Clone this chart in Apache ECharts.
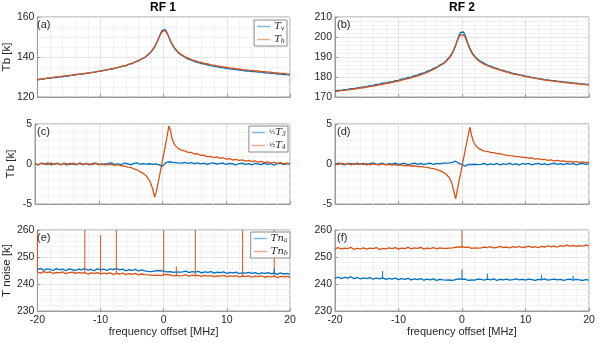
<!DOCTYPE html>
<html>
<head>
<meta charset="utf-8">
<script src="https://cdn.jsdelivr.net/npm/echarts@6/dist/echarts.min.js"></script>
<style>
  html, body { margin: 0; padding: 0; background: #fff; }
  #chart { width: 600px; height: 343px; }
</style>
</head>
<body>
<div id="chart"></div>
<script>
// frequency offset [MHz]: 0.5 MHz steps on the wings, 0.25 MHz around the line centre
const freq = [
  -20, -19.5, -19, -18.5, -18, -17.5, -17, -16.5, -16, -15.5, -15, -14.5, -14, -13.5, -13, -12.5, -12, -11.5,
  -11, -10.5, -10, -9.5, -9, -8.5, -8, -7.5, -7, -6.5, -6, -5.5, -5, -4.5, -4, -3.5, -3,
  -2.75, -2.5, -2.25, -2, -1.75, -1.5, -1.25, -1, -0.75, -0.5, -0.25, 0, 0.25, 0.5, 0.75, 1, 1.25, 1.5, 1.75,
  2, 2.25, 2.5, 2.75,
  3, 3.5, 4, 4.5, 5, 5.5, 6, 6.5, 7, 7.5, 8, 8.5, 9, 9.5, 10, 10.5, 11, 11.5, 12, 12.5, 13, 13.5, 14, 14.5,
  15, 15.5, 16, 16.5, 17, 17.5, 18, 18.5, 19, 19.5, 20
];

// (a) RF 1 brightness temperatures [K]
const tvRF1 = [
  128.5, 128.9, 128.9, 129.4, 129.3, 129.8, 129.7, 130.2, 130.1, 130.6, 130.5, 131.0, 130.9, 131.4, 131.3, 131.8, 131.8, 132.3,
  132.3, 132.8, 132.8, 133.4, 133.4, 134.0, 134.0, 134.7, 134.8, 135.5, 135.6, 136.4, 136.7, 137.6, 138.0, 139.1, 139.7,
  140.4, 141.0, 141.7, 142.5, 143.5, 144.7, 146.2, 147.9, 149.9, 151.8, 153.3, 154.1, 153.7, 152.3, 150.4, 148.5, 146.8, 145.3, 144.1,
  143.1, 142.3, 141.6, 141.0,
  140.4, 139.6, 138.8, 138.3, 137.6, 137.2, 136.7, 136.4, 135.9, 135.7, 135.3, 135.1, 134.7, 134.6, 134.2, 134.1, 133.8, 133.7,
  133.4, 133.3, 133.0, 133.0, 132.7, 132.7, 132.4, 132.4, 132.1, 132.1, 131.8, 131.8, 131.5, 131.5, 131.2, 131.2, 131.0
];
const thRF1 = [
  128.8, 128.8, 129.2, 129.3, 129.6, 129.8, 130.1, 130.1, 130.4, 130.6, 130.8, 130.9, 131.3, 131.3, 131.6, 131.7, 132.0, 132.2,
  132.4, 132.7, 133.1, 133.2, 133.6, 133.9, 134.2, 134.6, 135.0, 135.4, 135.8, 136.3, 136.9, 137.5, 138.3, 139.0, 139.9,
  140.6, 141.2, 141.9, 142.7, 143.7, 144.9, 146.3, 147.9, 149.7, 151.4, 152.7, 153.3, 153.2, 152.2, 150.6, 148.8, 147.1, 145.6, 144.4,
  143.4, 142.6, 141.9, 141.3,
  140.8, 139.9, 139.3, 138.6, 138.2, 137.6, 137.3, 136.8, 136.5, 136.1, 135.9, 135.5, 135.3, 135.0, 134.8, 134.5, 134.4, 134.1,
  134.0, 133.7, 133.6, 133.4, 133.3, 133.0, 133.0, 132.7, 132.7, 132.4, 132.4, 132.1, 132.1, 131.8, 131.8, 131.5, 131.3
];

// (b) RF 2 brightness temperatures [K]
const tvRF2 = [
  173.0, 173.3, 173.3, 173.7, 173.8, 174.2, 174.2, 174.6, 174.8, 175.1, 175.2, 175.7, 175.8, 176.3, 176.4, 176.9, 177.0, 177.5,
  177.6, 178.2, 178.3, 179.0, 179.1, 179.8, 179.9, 180.7, 180.9, 181.7, 182.0, 182.9, 183.3, 184.3, 184.8, 186.0, 186.7,
  187.4, 188.2, 189.0, 189.9, 191.0, 192.3, 194.0, 196.0, 198.3, 200.6, 202.3, 203.0, 202.5, 200.8, 198.5, 196.2, 194.3, 192.7, 191.4,
  190.4, 189.5, 188.8, 188.2,
  187.7, 186.8, 186.0, 185.4, 184.7, 184.3, 183.6, 183.3, 182.7, 182.4, 181.8, 181.6, 181.1, 180.9, 180.4, 180.2, 179.8, 179.6,
  179.2, 179.1, 178.7, 178.6, 178.3, 178.2, 177.9, 177.8, 177.5, 177.4, 177.2, 177.0, 176.9, 176.7, 176.6, 176.4, 176.3
];
const thRF2 = [
  172.8, 172.9, 173.2, 173.3, 173.6, 173.7, 174.0, 174.2, 174.5, 174.6, 175.0, 175.2, 175.5, 175.7, 176.1, 176.3, 176.7, 177.0,
  177.3, 177.7, 178.0, 178.4, 178.8, 179.2, 179.6, 180.1, 180.6, 181.1, 181.7, 182.3, 183.0, 183.8, 184.6, 185.5, 186.5,
  187.1, 187.8, 188.6, 189.5, 190.6, 191.9, 193.6, 195.6, 197.8, 199.8, 201.0, 201.3, 201.1, 199.9, 197.9, 195.8, 193.9, 192.3, 191.0,
  190.0, 189.1, 188.4, 187.8,
  187.3, 186.4, 185.7, 185.0, 184.4, 183.9, 183.4, 182.9, 182.5, 182.0, 181.6, 181.3, 180.9, 180.6, 180.2, 180.0, 179.6, 179.4,
  179.1, 178.8, 178.5, 178.3, 178.1, 177.9, 177.7, 177.5, 177.3, 177.1, 177.0, 176.8, 176.6, 176.5, 176.3, 176.2, 176.0
];

// (c) RF 1 half third / fourth Stokes [K]
const t3RF1 = [
  0.05, -0.12, 0.10, -0.05, 0.14, -0.10, 0.02, 0.12, -0.08, 0.06, -0.13, 0.09, 0.00, -0.10, 0.13, -0.04, 0.08, -0.12,
  0.05, 0.11, -0.07, 0.03, -0.11, 0.09, 0.14, -0.06, 0.02, -0.09, 0.12, 0.04, -0.10, 0.07, 0.13, -0.03, 0.05,
  0.10, -0.02, 0.12, 0.03, 0.08, -0.04, 0.06, 0.02, -0.05, -0.12, -0.22, -0.30, -0.08, 0.18, 0.32, 0.28, 0.35, 0.22, 0.30,
  0.18, 0.25, 0.14, 0.22,
  0.12, 0.20, 0.08, 0.16, 0.05, 0.14, 0.02, 0.11, -0.04, 0.09, 0.13, -0.02, 0.07, 0.10, -0.06, 0.08, 0.03, -0.10,
  0.06, 0.12, -0.05, 0.04, -0.12, 0.09, 0.01, -0.08, 0.11, -0.04, 0.06, -0.13, 0.03, 0.10, -0.07, 0.05, -0.02
];
const t4RF1 = [
  0.08, -0.10, 0.12, 0.02, -0.08, 0.15, -0.05, 0.06, -0.12, 0.10, 0.03, -0.09, 0.11, -0.04, 0.07, -0.11, 0.09, 0.00,
  -0.07, 0.08, -0.02, -0.10, 0.04, -0.12, -0.06, -0.18, -0.08, -0.22, -0.25, -0.38, -0.42, -0.62, -0.72, -0.98, -1.18,
  -1.38, -1.52, -1.85, -2.12, -2.62, -3.22, -4.15, -3.55, -2.6, -1.6, -0.6, 0.5, 1.5, 2.5, 3.6, 4.75, 4.2, 3.15, 2.65,
  2.3, 2.15, 1.92, 1.88,
  1.72, 1.65, 1.45, 1.45, 1.25, 1.28, 1.08, 1.10, 0.92, 0.95, 0.80, 0.88, 0.70, 0.78, 0.62, 0.66, 0.50, 0.58,
  0.45, 0.52, 0.36, 0.44, 0.30, 0.38, 0.25, 0.33, 0.18, 0.27, 0.12, 0.22, 0.08, 0.16, 0.02, 0.12, 0.04
];

// (d) RF 2 half third / fourth Stokes [K]
const t3RF2 = [
  -0.08, 0.10, 0.02, -0.12, 0.09, 0.04, -0.06, 0.12, -0.03, 0.07, -0.10, 0.05, 0.13, -0.05, 0.02, 0.10, -0.09, 0.06,
  -0.02, 0.11, -0.07, 0.04, 0.09, -0.11, 0.03, 0.12, -0.04, 0.07, -0.08, 0.05, 0.10, -0.06, 0.08, 0.01, 0.11,
  0.04, 0.12, 0.06, 0.15, 0.10, 0.20, 0.28, 0.35, 0.22, 0.10, 0.02, -0.08, -0.18, -0.28, -0.15, -0.05, 0.02, -0.06, 0.05,
  -0.03, 0.06, -0.08, 0.03,
  -0.05, 0.08, -0.10, 0.03, -0.07, 0.09, -0.12, 0.02, -0.06, 0.10, -0.09, 0.04, -0.13, 0.06, -0.03, 0.09, -0.10, 0.01,
  0.07, -0.08, 0.05, -0.11, 0.02, 0.10, -0.06, 0.04, -0.09, 0.08, -0.03, 0.06, -0.12, 0.03, 0.09, -0.05, 0.02
];
const t4RF2 = [
  0.06, -0.08, 0.10, -0.02, 0.04, -0.10, 0.08, -0.05, 0.02, -0.08, 0.05, -0.12, 0.00, -0.06, -0.10, 0.02, -0.12, -0.05,
  -0.15, -0.08, -0.18, -0.12, -0.22, -0.16, -0.28, -0.22, -0.32, -0.30, -0.40, -0.42, -0.52, -0.58, -0.70, -0.82, -1.02,
  -1.12, -1.28, -1.45, -1.72, -2.1, -2.7, -3.5, -4.35, -3.3, -2.3, -1.3, -0.3, 0.7, 1.7, 2.7, 3.7, 4.6, 3.6, 2.9,
  2.5, 2.2, 2.05, 1.88,
  1.82, 1.62, 1.58, 1.45, 1.42, 1.30, 1.28, 1.18, 1.12, 1.05, 1.02, 0.92, 0.92, 0.82, 0.82, 0.72, 0.75, 0.62,
  0.66, 0.55, 0.58, 0.46, 0.52, 0.40, 0.45, 0.35, 0.40, 0.30, 0.34, 0.25, 0.30, 0.20, 0.26, 0.16, 0.22
];

// (e) RF 1 noise temperatures [K]
const tnaRF1 = [
  245.3, 245.8, 245.1, 245.6, 245.4, 245.0, 245.7, 245.2, 245.5, 244.9, 245.6, 245.3, 245.0, 245.5, 245.2, 245.7, 245.1, 245.4,
  244.9, 245.6, 245.2, 245.5, 245.0, 245.6, 245.3, 245.8, 245.2, 245.5, 244.9, 245.3, 245.0, 245.4, 244.8, 245.2, 244.9,
  245.2, 244.7, 245.0, 244.6, 245.1, 244.8, 244.5, 245.0, 244.7, 244.9, 244.4, 244.8, 245.0, 244.5, 244.8, 244.6, 244.9, 244.3, 244.7,
  244.5, 244.9, 244.4, 244.7,
  244.5, 244.8, 244.2, 244.6, 244.4, 244.7, 244.1, 244.5, 244.3, 244.6, 244.0, 244.4, 244.2, 244.5, 243.9, 244.3, 244.1, 244.4,
  243.8, 244.2, 244.0, 244.3, 243.9, 244.2, 243.7, 244.1, 243.9, 244.2, 243.8, 244.0, 243.6, 244.1, 243.7, 243.9, 243.6
];
const tnbRF1 = [
  244.4, 244.0, 244.6, 244.2, 244.5, 243.9, 244.3, 244.1, 244.5, 243.8, 244.2, 244.4, 243.9, 244.3, 244.0, 244.2, 243.7, 244.1,
  243.9, 244.2, 243.7, 244.0, 243.8, 244.1, 243.6, 243.9, 243.7, 244.0, 243.5, 243.8, 243.6, 243.9, 243.4, 243.7, 243.5,
  243.8, 243.4, 243.7, 243.3, 243.6, 243.2, 243.5, 243.3, 243.7, 243.1, 243.5, 243.4, 243.2, 243.6, 243.1, 243.4, 243.3, 243.0, 243.5,
  243.2, 243.4, 243.0, 243.3,
  243.1, 243.4, 242.9, 243.3, 243.0, 243.2, 242.8, 243.2, 242.9, 243.1, 242.7, 243.0, 242.9, 243.2, 242.7, 243.0, 242.8, 243.1,
  242.6, 242.9, 242.8, 243.0, 242.5, 242.9, 242.7, 243.0, 242.5, 242.8, 242.6, 242.9, 242.4, 242.8, 242.6, 242.8, 242.5
];
// narrow RFI spikes in (e): position [MHz], foot and peak [K]
const spikeFreqE = [-20, -12.5, -10, -7.5, 0, 2, 5, 12.5, 17.5];
const spikeBaseE = [244.4, 244.2, 243.7, 243.9, 243.4, 243.2, 243.0, 242.7, 242.6];
const spikeTopE = [260, 260, 258, 260, 260, 246.5, 260, 260, 260];
const spikeFreqEa = [17.5];
const spikeBaseEa = [243.8];
const spikeTopEa = [245.8];

// (f) RF 2 noise temperatures [K]
const tnaRF2 = [
  242.1, 242.6, 242.0, 242.5, 242.2, 242.7, 242.0, 242.4, 241.9, 242.3, 242.0, 242.4, 241.8, 242.2, 241.9, 242.3, 241.7, 242.1,
  241.8, 242.2, 241.6, 242.0, 241.7, 242.1, 241.5, 241.9, 241.6, 242.0, 241.4, 241.8, 241.5, 241.9, 241.3, 241.7, 241.5,
  241.8, 241.4, 241.7, 241.5, 241.9, 241.3, 241.8, 241.6, 241.4, 241.9, 241.5, 241.7, 241.4, 241.8, 241.6, 241.3, 241.7, 241.5, 241.9,
  241.4, 241.6, 241.8, 241.5,
  241.7, 241.4, 241.8, 241.5, 241.9, 241.3, 241.7, 241.5, 241.8, 241.4, 241.6, 241.9, 241.5, 241.7, 241.4, 241.8, 241.6, 241.3,
  241.7, 241.5, 241.9, 241.4, 241.6, 241.8, 241.5, 241.7, 241.3, 241.6, 241.8, 241.4, 241.7, 241.5, 241.3, 241.6, 241.4
];
const tnbRF2 = [
  253.0, 253.5, 252.9, 253.3, 253.1, 253.6, 252.8, 253.2, 253.0, 253.4, 252.9, 253.3, 253.1, 253.5, 252.8, 253.2, 253.0, 253.4,
  253.1, 253.5, 252.9, 253.3, 253.1, 253.6, 253.0, 253.4, 253.2, 253.6, 252.9, 253.3, 253.1, 253.5, 253.0, 253.4, 253.2,
  253.5, 253.2, 253.6, 253.3, 253.7, 253.4, 253.2, 253.6, 253.3, 253.7, 253.5, 253.8, 253.4, 253.6, 253.3, 253.7, 253.5, 253.2, 253.6,
  253.4, 253.8, 253.3, 253.6,
  253.4, 253.7, 253.5, 253.8, 253.4, 253.6, 253.9, 253.5, 253.7, 253.4, 253.8, 253.6, 253.9, 253.5, 253.7, 254.0, 253.6, 253.8,
  253.5, 253.9, 253.7, 254.1, 253.8, 254.0, 253.7, 254.2, 253.9, 254.4, 254.0, 254.3, 253.9, 254.2, 254.0, 254.4, 254.1
];
const spikeFreqFb = [0];
const spikeBaseFb = [253.6];
const spikeTopFb = [260];
const spikeFreqFa = [-12.5, 0, 4, 12.5, 17.5];
const spikeBaseFa = [241.8, 241.6, 241.6, 241.5, 241.5];
const spikeTopFa = [244.8, 245.4, 243.8, 243.4, 243.0];

const BLUE = '#0072BD';
const ORANGE = '#D95319';
const FRAME = '#9a9a9a';
const TXT = '#262626';
const FONT = 'Liberation Sans, Arial, sans-serif';
const SERIF = 'DejaVu Serif, Liberation Serif, serif';

// panel layout: grid index 0..5 = (a)..(f)
const colLeft = [35, 335];
const colWidth = [255, 254];
const rowTop = [17, 124, 230];
const rowHeight = [80, 80, 81];

const yRange = [
  { min: 120, max: 160, interval: 20, minor: 4, name: 'Tb [k]' },
  { min: 170, max: 210, interval: 10, minor: 5, name: '' },
  { min: -5, max: 5, interval: 5, minor: 5, name: 'Tb [k]' },
  { min: -5, max: 5, interval: 5, minor: 5, name: '' },
  { min: 230, max: 260, interval: 10, minor: 5, name: 'T noise [k]' },
  { min: 230, max: 260, interval: 10, minor: 5, name: '' }
];
const panelLabels = ['(a)', '(b)', '(c)', '(d)', '(e)', '(f)'];

const grids = [], xAxes = [], yAxes = [], titles = [];
for (let i = 0; i < 6; i++) {
  const col = i % 2, row = Math.floor(i / 2);
  grids.push({
    left: colLeft[col], top: rowTop[row], width: colWidth[col], height: rowHeight[row],
    show: true, borderColor: FRAME, borderWidth: 1, backgroundColor: '#fff'
  });
  const bottom = row === 2;
  xAxes.push({
    type: 'value', gridIndex: i, min: -20, max: 20, interval: 10,
    axisLine: { show: true, onZero: false, lineStyle: { color: FRAME } },
    axisTick: { show: true, inside: true, length: 3, lineStyle: { color: FRAME } },
    minorTick: { show: false, splitNumber: 5 },
    splitLine: { show: true, lineStyle: { color: '#e4e4e4', width: 1 } },
    minorSplitLine: { show: true, lineStyle: { color: '#f2f2f2', width: 1 } },
    axisLabel: { show: bottom, margin: 4, fontSize: 10.5, color: TXT, fontFamily: FONT },
    name: bottom ? 'frequency offset [MHz]' : '',
    nameLocation: 'middle', nameGap: 15,
    nameTextStyle: { fontSize: 11, color: TXT, fontFamily: FONT }
  });
  const yr = yRange[i];
  yAxes.push({
    type: 'value', gridIndex: i, min: yr.min, max: yr.max, interval: yr.interval,
    axisLine: { show: true, onZero: false, lineStyle: { color: FRAME } },
    axisTick: { show: true, inside: true, length: 3, lineStyle: { color: FRAME } },
    minorTick: { show: false, splitNumber: yr.minor },
    splitLine: { show: true, lineStyle: { color: '#e4e4e4', width: 1 } },
    minorSplitLine: { show: true, lineStyle: { color: '#f2f2f2', width: 1 } },
    axisLabel: { margin: 3, fontSize: 10.5, color: TXT, fontFamily: FONT },
    name: yr.name, nameLocation: 'middle', nameGap: 18,
    nameTextStyle: { fontSize: 11.5, color: TXT, fontFamily: FONT }
  });
  titles.push({
    text: panelLabels[i], left: colLeft[col] + 2, top: rowTop[row] + 2, padding: 0,
    textStyle: { fontSize: 11, fontWeight: 'normal', color: TXT, fontFamily: FONT }
  });
}
titles.push(
  { text: 'RF 1', left: 163, top: 2, textAlign: 'center', padding: 0,
    textStyle: { fontSize: 12, fontWeight: 'bold', color: '#000', fontFamily: FONT } },
  { text: 'RF 2', left: 462, top: 2, textAlign: 'center', padding: 0,
    textStyle: { fontSize: 12, fontWeight: 'bold', color: '#000', fontFamily: FONT } }
);

function trace(name, gi, values, color) {
  return {
    name, type: 'line', xAxisIndex: gi, yAxisIndex: gi,
    data: freq.map((f, k) => [f, values[k]]),
    showSymbol: false, symbol: 'none', silent: true, animation: false,
    lineStyle: { color, width: 1.3 }, itemStyle: { color }
  };
}

function spikes(gi, fs, bases, tops, color) {
  const data = [];
  fs.forEach((f, k) => { data.push([f, bases[k]], [f, tops[k]], [f, '-']); });
  return {
    type: 'line', xAxisIndex: gi, yAxisIndex: gi, data,
    showSymbol: false, symbol: 'none', silent: true, animation: false, connectNulls: false,
    lineStyle: { color, width: 1 }
  };
}

// legend labels in math italics with subscripts
const legendText = {
  Tv: '{i|T}{s|v}', Th: '{i|T}{s|h}',
  T3: '{f|½}{i|T}{s|3}', T4: '{f|½}{i|T}{s|4}',
  Tna: '{i|Tn}{s|a}', Tnb: '{i|Tn}{s|b}'
};
const richText = {
  i: { fontFamily: SERIF, fontStyle: 'italic', fontSize: 10, color: TXT, lineHeight: 11 },
  s: { fontFamily: SERIF, fontStyle: 'italic', fontSize: 6.5, color: TXT, lineHeight: 11, verticalAlign: 'bottom', padding: [4, 0, 0, 0] },
  f: { fontFamily: SERIF, fontSize: 6.5, color: TXT, lineHeight: 11 }
};
function legendBox(names, right, top) {
  return {
    data: names, orient: 'vertical', right, top,
    icon: 'rect', itemWidth: 13, itemHeight: 1.5, itemGap: 2, padding: [1, 2, 1, 3],
    borderColor: '#8a8a8a', borderWidth: 1, backgroundColor: '#fff',
    itemStyle: { opacity: 0.5 },
    formatter: n => legendText[n],
    textStyle: { rich: richText, padding: [0, 0, 0, -1] }
  };
}

const option = {
  animation: false,
  title: titles,
  grid: grids,
  xAxis: xAxes,
  yAxis: yAxes,
  legend: [
    legendBox(['Tv', 'Th'], 313, 20),
    legendBox(['T3', 'T4'], 312, 126),
    legendBox(['Tna', 'Tnb'], 310, 232)
  ],
  series: [
    trace('Tv', 0, tvRF1, BLUE), trace('Th', 0, thRF1, ORANGE),
    trace('Tv2', 1, tvRF2, BLUE), trace('Th2', 1, thRF2, ORANGE),
    trace('T3', 2, t3RF1, BLUE), trace('T4', 2, t4RF1, ORANGE),
    trace('T32', 3, t3RF2, BLUE), trace('T42', 3, t4RF2, ORANGE),
    trace('Tna', 4, tnaRF1, BLUE), trace('Tnb', 4, tnbRF1, ORANGE),
    spikes(4, spikeFreqE, spikeBaseE, spikeTopE, ORANGE),
    spikes(4, spikeFreqEa, spikeBaseEa, spikeTopEa, BLUE),
    trace('Tna2', 5, tnaRF2, BLUE), trace('Tnb2', 5, tnbRF2, ORANGE),
    spikes(5, spikeFreqFb, spikeBaseFb, spikeTopFb, ORANGE),
    spikes(5, spikeFreqFa, spikeBaseFa, spikeTopFa, BLUE)
  ]
};

const chart = echarts.init(document.getElementById('chart'), null, { renderer: 'canvas' });
chart.setOption(option);
</script>
</body>
</html>
